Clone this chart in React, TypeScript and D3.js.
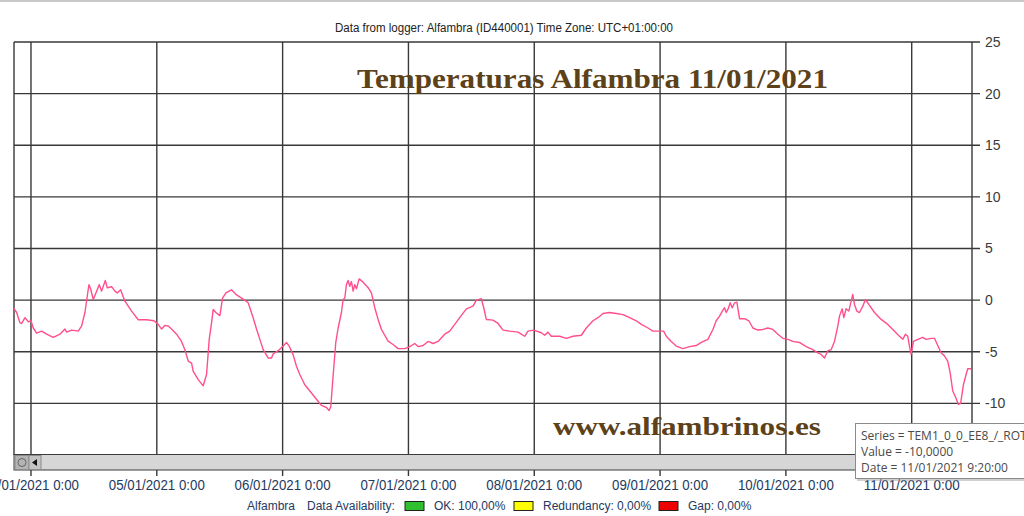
import { useMemo } from 'react'
import * as d3 from 'd3'

// hours since 04/01/2021 0:00
const readingHours = [
  -3.37, -2.73, -2.1, -1.78, -1.14, -0.51, 0, 0.44, 1.08, 2.03, 2.99, 4.26, 5.53, 6.48, 6.8, 7.75, 9.02, 9.66,
  10.29, 10.74, 11.06, 11.37, 11.88, 12.52, 13.03, 13.47, 14.17, 14.55, 15.38, 16.01, 16.46, 17.09, 17.92,
  19.19, 20.46, 22.05, 23.45, 24.27, 24.91, 25.54, 26.18, 26.82, 27.77, 28.72, 29.36, 29.99, 30.63, 30.95,
  31.9, 32.85, 33.49, 34.0, 34.44, 34.76, 35.27, 36.03, 36.54, 37.18, 38.25, 39.21, 40.48, 41.43, 42.38,
  43.02, 43.66, 44.29, 45.24, 45.88, 46.2, 47.15, 48.1, 48.74, 49.25, 50.01, 50.64, 51.28, 52.23, 53.19,
  54.46, 55.41, 56.36, 56.87, 57.19, 57.63, 58.14, 58.59, 59.22, 59.54, 59.86, 60.17, 60.49, 60.81, 61.13,
  61.45, 61.76, 62.08, 62.59, 63.35, 64.31, 64.94, 65.58, 66.21, 66.85, 67.48, 68.12, 69.07, 70.03, 71.3,
  72.25, 73.21, 73.84, 74.79, 75.75, 76.7, 77.65, 78.92, 79.88, 80.83, 81.78, 83.05, 84.32, 84.96, 85.91,
  86.36, 86.86, 88.13, 89.09, 90.04, 91.31, 92.9, 93.54, 94.17, 94.81, 95.89, 97.35, 97.99, 98.62, 99.26,
  100.85, 102.12, 103.39, 104.98, 105.93, 107.2, 108.16, 109.11, 110.38, 111.65, 112.92, 114.19, 115.46,
  116.42, 117.69, 118.64, 119.91, 120.67, 121.18, 122.13, 123.09, 124.36, 125.63, 126.9, 127.85, 129.12,
  130.08, 130.71, 131.35, 131.98, 132.3, 132.62, 132.94, 133.38, 133.76, 134.21, 134.65, 135.16, 136.11,
  136.94, 137.7, 138.65, 139.61, 140.56, 141.51, 142.47, 143.42, 144.37, 145.33, 146.59, 147.87, 149.14,
  150.09, 150.73, 151.36, 152.0, 152.63, 153.27, 153.91, 154.22, 154.73, 155.05, 155.49, 156.0, 156.45,
  156.76, 157.08, 157.53, 158.04, 158.67, 159.18, 159.81, 160.9, 162.17, 163.44, 164.39, 165.66, 166.3,
  166.8, 167.25, 167.57, 167.88, 168.33, 169.16, 170.11, 170.75, 171.7, 172.34, 172.97, 173.6, 174.24,
  174.87, 175.32, 175.83, 176.46, 176.91, 177.33, 177.86, 178.37, 178.69, 179.32,
]

const readingTemps = [
  -0.74, -1.2, -2.2, -2.26, -1.7, -2.1, -2.0, -2.7, -3.2, -3.0, -3.3, -3.6, -3.3, -2.8, -3.1, -2.9, -3.0, -2.5,
  -1.2, 0.4, 1.5, 1.1, 0.06, 0.87, 1.5, 0.87, 1.9, 1.2, 1.3, 0.87, 0.7, 1.0, -0.1,
  -1.06, -1.9, -1.9, -2.0, -2.35, -2.8, -2.45, -2.5, -2.8, -3.3, -4.0, -4.8, -5.9, -6.1, -6.9,
  -7.7, -8.3, -7.2, -3.8, -2.2, -0.9, -1.2, -1.5, 0.2, 0.7, 1.0, 0.5, 0.1, -0.26, -1.7,
  -2.8, -3.8, -4.8, -5.6, -5.6, -5.2, -4.9, -4.45, -4.1, -4.45, -5.3, -6.4, -7.2, -8.2, -8.8,
  -9.6, -10.2, -10.4, -10.7, -10.3, -7.35, -4.1, -2.7, -1.2, 0.06, 0.2, 1.5, 1.9, 1.35, 1.8,
  0.87, 1.5, 1.1, 2.06, 1.74, 1.2, 0.7, -0.74, -1.87, -2.84, -3.4, -3.97, -4.3, -4.7, -4.7,
  -4.5, -4.2, -4.5, -4.4, -4.0, -4.2, -4.0, -3.3, -3.0, -2.35, -1.7, -0.84, -0.58, 0, 0.13,
  -0.74, -1.87, -1.94, -2.26, -2.9, -3.0, -3.1, -3.3, -3.5, -3.0, -2.9, -3.16, -3.4, -3.1, -3.5,
  -3.5, -3.7, -3.5, -3.4, -2.7, -2.0, -1.7, -1.3, -1.2, -1.3, -1.4, -1.7, -2.0,
  -2.35, -2.7, -3.0, -3.0, -3.0, -3.5, -4.0, -4.45, -4.7, -4.5, -4.4, -4.1, -3.8,
  -2.84, -2.0, -1.55, -0.97, -0.74, -1.2, -0.9, -0.26, -0.74, -0.26, -0.2, -1.8, -1.8,
  -2.0, -2.7, -2.9, -2.84, -2.7, -2.84, -3.3, -3.7, -3.8, -4.0, -4.1, -4.5, -4.8,
  -5.1, -5.26, -5.6, -4.9, -4.8, -4.0, -2.5, -1.55, -0.84, -1.7, -0.84, -1.06, -0.1,
  0.55, -0.42, -1.06, -1.2, -0.58, 0.06, -0.42, -1.2, -1.87, -2.35, -2.84, -3.5, -3.8,
  -3.3, -3.5, -4.45, -5.26, -4.0, -3.8, -3.6, -3.8, -3.7, -3.7, -4.4, -5.1, -5.4,
  -5.9, -7.0, -8.8, -9.5, -10.1, -10.0, -8.2, -7.2, -6.65, -6.65,
]

const yTicks = [-10, -5, 0, 5, 10, 15, 20, 25]

const legendItems = [
  { label: 'OK: 100,00%', color: '#2fbf2f' },
  { label: 'Redundancy: 0,00%', color: '#ffff00' },
  { label: 'Gap: 0,00%', color: '#ee0000' },
]

const tooltipLines = ['Series = TEM1_0_0_EE8_/_ROT', 'Value = -10,0000', 'Date = 11/01/2021 9:20:00']

const BASE = new Date(2021, 0, 4, 0, 0)
const HOUR = 3600 * 1000
const at = (h: number) => new Date(BASE.getTime() + h * HOUR)

const GRID = '#383838'
const LABEL_BLUE = '#23395e'

export default function App() {
  const W = 1024
  const H = 516
  const left = 14
  const right = 972
  const top = 42
  const bottom = 455

  const x = useMemo(
    () => d3.scaleTime().domain([at(-3.24), at(179.5)]).range([left, right]),
    []
  )
  const y = useMemo(() => d3.scaleLinear().domain([-15, 25]).range([bottom, top]), [])

  const points = readingHours.map((h, i) => ({ t: at(h), v: readingTemps[i] }))
  const line = d3
    .line<{ t: Date; v: number }>()
    .x((d) => x(d.t))
    .y((d) => y(d.v))

  const dayTicks = x.ticks(d3.timeDay.every(1)!)
  const fmt = d3.timeFormat('%d/%m/%Y %-H:%M')

  return (
    <svg
      width={W}
      height={H}
      style={{ position: 'absolute', left: 0, top: 0, background: '#fff' }}
      fontFamily="'Liberation Sans', Arial, sans-serif"
    >
      <defs>
        <clipPath id="plot">
          <rect x={left} y={top} width={right - left} height={bottom - top} />
        </clipPath>
      </defs>
      <rect x={0} y={0} width={W} height={2} fill="#c8c8c8" />

      <text x={504} y={32} textAnchor="middle" fontSize={12} fill="#222" textLength={338} lengthAdjust="spacingAndGlyphs">
        Data from logger: Alfambra (ID440001) Time Zone: UTC+01:00:00
      </text>

      {/* horizontal grid + right ticks */}
      {yTicks.map((t) => (
        <line key={t} x1={left} x2={980} y1={y(t)} y2={y(t)} stroke={GRID} strokeWidth={1.4} />
      ))}
      {/* left border */}
      <line x1={left} x2={left} y1={top} y2={bottom} stroke={GRID} strokeWidth={1.4} />
      {/* vertical day grid */}
      {dayTicks.map((d) => (
        <g key={+d}>
          <line x1={x(d)} x2={x(d)} y1={top} y2={bottom} stroke={GRID} strokeWidth={1.4} />
          <line x1={x(d)} x2={x(d)} y1={470} y2={476} stroke={GRID} strokeWidth={1.4} />
          <text x={x(d)} y={490} textAnchor="middle" fontSize={14} fill={LABEL_BLUE} textLength={96} lengthAdjust="spacingAndGlyphs">
            {fmt(d)}
          </text>
        </g>
      ))}
      {/* right axis */}
      <line x1={right} x2={right} y1={top} y2={bottom} stroke={GRID} strokeWidth={1.4} />
      {yTicks.map((t) => (
        <text key={t} x={985} y={y(t)} dy="0.35em" fontSize={14} fill="#3a3a3a">
          {t}
        </text>
      ))}

      <text x={357} y={88} fontFamily="'Liberation Serif', 'DejaVu Serif', serif" fontWeight="bold" fontSize={28} fill="#5c4119" textLength={471} lengthAdjust="spacingAndGlyphs">
        Temperaturas Alfambra 11/01/2021
      </text>

      <path d={line(points) ?? ''} fill="none" stroke="#ff4f8f" strokeWidth={1.4} strokeLinejoin="round" clipPath="url(#plot)" />

      <text x={553} y={435} fontFamily="'Liberation Serif', 'DejaVu Serif', serif" fontWeight="bold" fontSize={25} fill="#5c4119" textLength={268} lengthAdjust="spacingAndGlyphs">
        www.alfambrinos.es
      </text>

      {/* scrollbar */}
      <rect x={left} y={454.5} width={right - left} height={15.5} fill="#d6d6d6" stroke="#3c3c3c" strokeWidth={1} />
      <rect x={left + 1} y={455.5} width={14} height={14} fill="#b4b4b4" stroke="#8c8c8c" />
      <circle cx={left + 8} cy={462.5} r={4} fill="none" stroke="#666" strokeWidth={1} />
      <rect x={left + 15} y={455.5} width={12} height={14} fill="#c4c4c4" stroke="#8c8c8c" />
      <path d={`M${left + 18},462.5 L${left + 23},459 L${left + 23},466 Z`} fill="#111" />

      {/* legend */}
      <text x={247} y={510} fontSize={12} fill={LABEL_BLUE}>Alfambra</text>
      <text x={307} y={510} fontSize={12} fill={LABEL_BLUE}>Data Availability:</text>
      {legendItems.map((it, i) => {
        const bx = [405, 514, 659][i]
        return (
          <g key={it.label}>
            <rect x={bx} y={501.5} width={19} height={9} fill={it.color} stroke="#222" strokeWidth={1} />
            <text x={bx + 29} y={510} fontSize={12} fill={LABEL_BLUE}>{it.label}</text>
          </g>
        )
      })}

      {/* tooltip */}
      <rect x={857} y={425} width={180} height={56} fill="#9a9a9a" opacity={0.45} />
      <rect x={855.5} y={423.5} width={180} height={55} fill="#fff" stroke="#8a8a8a" />
      {tooltipLines.map((s, i) => (
        <text key={s} x={861} y={440 + i * 16} fontSize={12} fontFamily="'Open Sans', 'Noto Sans', sans-serif" fill="#4a4a4a">
          {s}
        </text>
      ))}
    </svg>
  )
}
